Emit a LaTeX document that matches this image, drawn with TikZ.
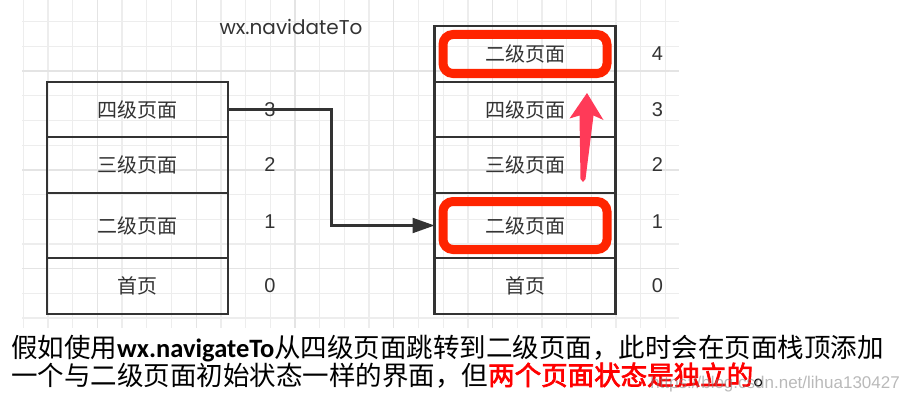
\documentclass[tikz,border=0pt]{standalone}
\usepackage{fontspec}
\setmainfont{Liberation Sans}
\newfontfamily\cjk[AutoFakeBold=2.5]{Noto Sans CJK SC}
\newfontfamily\titlefont{Poppins}
\newfontfamily\calibri{Carlito}
\usepackage{tikz}
\usetikzlibrary{
  arrows.meta,
  positioning,
  fit
}
\definecolor{gridGray}{RGB}{237, 237, 237}
\definecolor{gridMajor}{RGB}{228, 228, 228}
\definecolor{boxGray}{RGB}{51, 51, 51}
\definecolor{markRed}{RGB}{255, 36, 0}
\definecolor{pushRed}{RGB}{255, 58, 88}
\definecolor{noteRed}{RGB}{255, 0, 0}

\begin{document}
\begin{tikzpicture}[
    x=1pt, y=-1pt,
    page/.style={rectangle, draw=boxGray, line width=2.5pt, minimum width=181pt, inner sep=0pt, outer sep=0pt, text=boxGray, font=\cjk\fontsize{20}{24}\selectfont},
    num/.style={text=boxGray, inner sep=0pt, font=\fontsize{20}{24}\selectfont},
    hilite/.style={rectangle, draw=markRed, line width=9pt, rounded corners=10pt, inner sep=-8.5pt},
    arrow/.style={-{Triangle[length=22pt, width=15pt]}, draw=boxGray, line width=2.2pt}
]
    \useasboundingbox (0,0) rectangle (910,404);

    % grid paper
    \begin{scope}
        \clip (22,0) rectangle (679,328);
        \foreach \i in {0,...,26}
            \draw[gridGray, line width=1.3pt] (23.3+24.7*\i,0) -- ++(0,328);
        \foreach \j in {0,...,13}
            \draw[gridGray, line width=1.3pt] (22,-3+24.7*\j) -- ++(657,0);
        \foreach \i in {3,7,...,23}
            \draw[gridMajor, line width=1.3pt] (23.3+24.7*\i,0) -- ++(0,328);
        \foreach \j in {3,7,11}
            \draw[gridMajor, line width=1.3pt] (22,-3+24.7*\j) -- ++(657,0);
    \end{scope}

    \node[text=boxGray, font=\titlefont\fontsize{20}{24}\selectfont] (title) at (291,27) {wx.navidateTo};

    % stack before
    \node[page, minimum height=55pt] (lfour) at (137.5,109.5) {四级页面};
    \node[page, minimum height=56pt, below=0pt of lfour] (lthree) {三级页面};
    \node[page, minimum height=65pt, below=0pt of lthree] (ltwo) {二级页面};
    \node[page, minimum height=56pt, below=0pt of ltwo] (lhome) {首页};

    \node[num] (nlfour) at ([xshift=42pt]lfour.east) {3};
    \node[num] (nlthree) at ([xshift=42pt]lthree.east) {2};
    \node[num] (nltwo) at ([xshift=42pt, yshift=4pt]ltwo.east) {1};
    \node[num] (nlhome) at ([xshift=42pt]lhome.east) {0};

    % stack after
    \node[page, minimum height=56pt] (rnew) at (525,54) {二级页面};
    \node[page, minimum height=55pt, below=0pt of rnew] (rfour) {四级页面};
    \node[page, minimum height=56pt, below=0pt of rfour] (rthree) {三级页面};
    \node[page, minimum height=65pt, below=0pt of rthree] (rtwo) {二级页面};
    \node[page, minimum height=56pt, below=0pt of rtwo] (rhome) {首页};

    \node[num] (nrnew) at ([xshift=42pt]rnew.east) {4};
    \node[num] (nrfour) at ([xshift=42pt]rfour.east) {3};
    \node[num] (nrthree) at ([xshift=42pt]rthree.east) {2};
    \node[num] (nrtwo) at ([xshift=42pt, yshift=4pt]rtwo.east) {1};
    \node[num] (nrhome) at ([xshift=42pt]rhome.east) {0};

    \node[hilite, fit=(rnew)] (marknew) {};
    \node[hilite, fit=(rtwo)] (marktwo) {};

    \draw[arrow] (lfour.east) -- ++(103.5,0) |- (rtwo.west);

    % push arrow
    \coordinate (uptip) at (587,93);
    \coordinate (uptail) at (583,182);
    \fill[pushRed] (uptip) -- (603.5,120) -- (593.5,115.5) -- (585.5,179) -- (uptail)
        -- (580.5,179) -- (579.5,115.5) -- (569.5,118.5) -- cycle;

    \node[anchor=north west, align=left, inner sep=0pt, font=\cjk\fontsize{26.5}{27.5}\selectfont] (caption) at (11,335) {%
        假如使用{\calibri\bfseries wx.navigateTo}从四级页面跳转到二级页面，此时会在页面栈顶添加\\
        一个与二级页面初始状态一样的界面，但{\bfseries\color{noteRed}两个页面状态是独立的}。};

    \node[anchor=east, inner sep=0pt, text=gray, text opacity=0.55, font=\fontsize{17}{20}\selectfont] (wmark) at (900,384) {https://blog.csdn.net/lihua130427};

\end{tikzpicture}
\end{document}
